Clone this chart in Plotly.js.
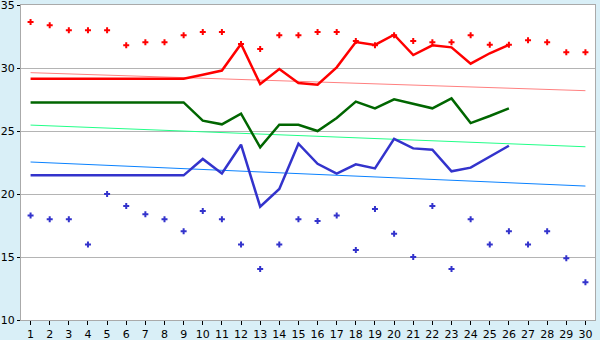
<!DOCTYPE html>
<html>
<head>
<meta charset="utf-8">
<script src="https://cdn.plot.ly/plotly-3.0.1.min.js"></script>
<style>html,body{margin:0;padding:0;background:#d9eff7;}#chart{width:600px;height:340px;}</style>
</head>
<body>
<div id="chart"></div>
<script>
var days = [1,2,3,4,5,6,7,8,9,10,11,12,13,14,15,16,17,18,19,20,21,22,23,24,25,26,27,28,29,30];
var maxDots = [33.65,33.4,33.0,33.0,33.0,31.8,32.05,32.05,32.6,32.85,32.85,31.9,31.5,32.6,32.6,32.85,32.85,32.15,31.8,32.6,32.15,32.05,32.05,32.6,31.85,31.85,32.2,32.05,31.25,31.25];
var minDots = [18.3,18.0,18.0,16.0,20.0,19.05,18.4,18.0,17.05,18.65,18.0,16.0,14.05,16.0,18.0,17.85,18.3,15.55,18.8,16.85,15.0,19.05,14.05,18.0,16.0,17.05,16.0,17.05,14.9,13.0];
var lineDays = [1,2,3,4,5,6,7,8,9,10,11,12,13,14,15,16,17,18,19,20,21,22,23,24,25,26];
var redLine = [29.15,29.15,29.15,29.15,29.15,29.15,29.15,29.15,29.15,29.47,29.8,31.9,28.73,29.92,28.8,28.67,30.05,32.06,31.83,32.64,31.03,31.8,31.64,30.34,31.17,31.83];
var greenLine = [27.27,27.27,27.27,27.27,27.27,27.27,27.27,27.27,27.27,25.82,25.53,26.37,23.7,25.5,25.5,25.0,26.03,27.33,26.8,27.51,27.14,26.8,27.59,25.63,26.19,26.8];
var blueLine = [21.48,21.48,21.48,21.48,21.48,21.48,21.48,21.48,21.48,22.78,21.63,23.91,18.99,20.4,23.99,22.4,21.61,22.35,22.03,24.38,23.62,23.52,21.8,22.09,22.94,23.83];
var trendDays = [1,30];
var redTrend = [29.63,28.2];
var greenTrend = [25.47,23.75];
var blueTrend = [22.54,20.63];
var yTicks = [10,15,20,25,30,35];

var traces = [
  {x: trendDays, y: redTrend, mode: 'lines', line: {color: '#ff8080', width: 1}},
  {x: trendDays, y: greenTrend, mode: 'lines', line: {color: '#22ff88', width: 1}},
  {x: trendDays, y: blueTrend, mode: 'lines', line: {color: '#0a82ff', width: 1}},
  {x: lineDays, y: redLine, mode: 'lines', line: {color: '#ff0000', width: 2.5}},
  {x: lineDays, y: greenLine, mode: 'lines', line: {color: '#006600', width: 2.5}},
  {x: lineDays, y: blueLine, mode: 'lines', line: {color: '#3333cc', width: 2.5}},
  {x: days, y: maxDots, mode: 'markers', marker: {symbol: 'cross', size: 5, color: '#ff0000'}},
  {x: days, y: minDots, mode: 'markers', marker: {symbol: 'cross', size: 5, color: '#3333cc'}}
];

var layout = {
  width: 600, height: 340,
  margin: {l: 21, r: 5, t: 5, b: 20},
  paper_bgcolor: '#d9eff7',
  plot_bgcolor: '#ffffff',
  showlegend: false,
  font: {family: 'DejaVu Sans, Verdana, sans-serif', size: 11, color: '#000'},
  xaxis: {
    range: [0.5, 30.5], tickmode: 'array', tickvals: days, ticktext: days.map(String),
    ticks: 'outside', ticklen: 4, tickcolor: '#000', showgrid: false, zeroline: false,
    showline: true, linecolor: '#aaaaaa', linewidth: 1, mirror: true,
    tickfont: {size: 11}
  },
  yaxis: {
    range: [10, 35], tickmode: 'array', tickvals: yTicks, ticktext: yTicks.map(String),
    ticks: 'outside', ticklen: 3, tickcolor: '#000', ticklabeloverflow: 'allow',
    showgrid: true, gridcolor: '#b4b4b4', gridwidth: 1, zeroline: false,
    showline: true, linecolor: '#aaaaaa', linewidth: 1, mirror: true,
    tickfont: {size: 11}
  }
};

Plotly.newPlot('chart', traces, layout, {displayModeBar: false, staticPlot: true});
</script>
</body>
</html>
